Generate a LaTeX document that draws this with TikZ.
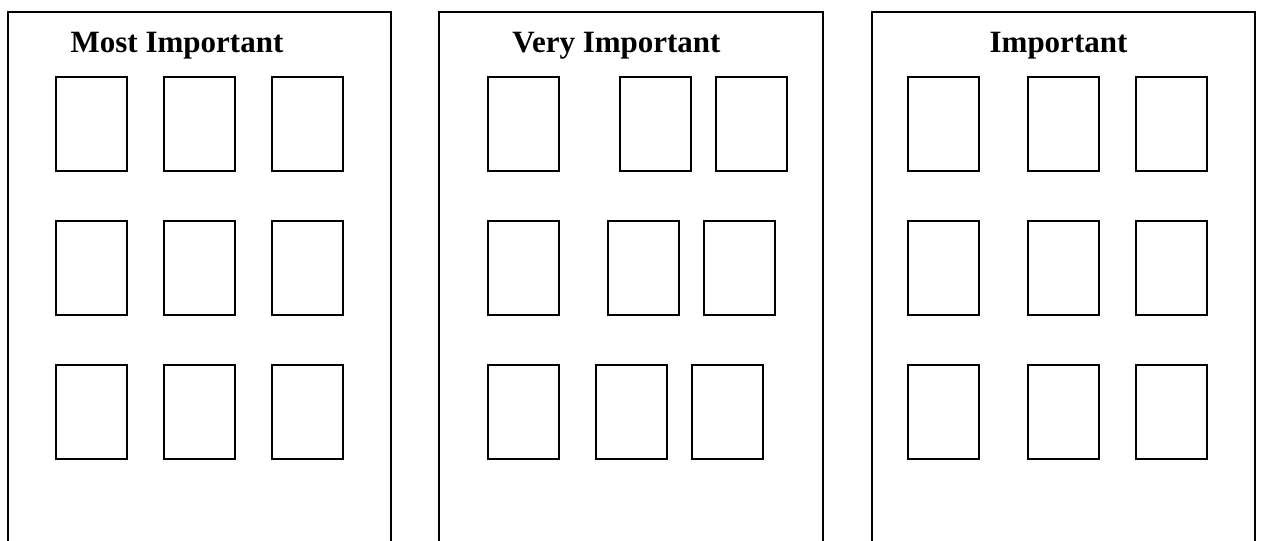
\documentclass[tikz,border=0pt]{standalone}
\usepackage{fontspec}
\setmainfont{Liberation Serif}
\begin{document}
\begin{tikzpicture}[x=1pt,y=-1pt,
  panel/.style={draw=black,line width=2pt},
  card/.style={draw=black,line width=2pt,minimum width=71pt,minimum height=94pt,inner sep=0pt,outer sep=0pt},
  heading/.style={font=\bfseries\fontsize{31}{36}\selectfont,anchor=base,inner sep=0pt}]
\useasboundingbox (0,0) rectangle (1262,541);
% panels (open at the bottom)
\draw[panel] (8,545) -- (8,12) -- (391,12) -- (391,545);
\draw[panel] (439,545) -- (439,12) -- (823,12) -- (823,545);
\draw[panel] (872,545) -- (872,12) -- (1255,12) -- (1255,545);
% headings
\node[heading] (h1) at (177,52) {Most Important};
\node[heading] (h2) at (616.5,52) {Very Important};
\node[heading] (h3) at (1058.5,52) {Important};
% left panel cards
\foreach \r/\y in {1/124,2/268,3/412}{
  \node[card] (a\r1) at (91.5,\y) {};
  \node[card] (a\r2) at (199.5,\y) {};
  \node[card] (a\r3) at (307.5,\y) {};
}
% middle panel cards
\node[card] (b11) at (523.5,124) {};
\node[card] (b12) at (655.5,124) {};
\node[card] (b13) at (751.5,124) {};
\node[card] (b21) at (523.5,268) {};
\node[card] (b22) at (643.5,268) {};
\node[card] (b23) at (739.5,268) {};
\node[card] (b31) at (523.5,412) {};
\node[card] (b32) at (631.5,412) {};
\node[card] (b33) at (727.5,412) {};
% right panel cards
\foreach \r/\y in {1/124,2/268,3/412}{
  \node[card] (c\r1) at (943.5,\y) {};
  \node[card] (c\r2) at (1063.5,\y) {};
  \node[card] (c\r3) at (1171.5,\y) {};
}
\end{tikzpicture}
\end{document}
